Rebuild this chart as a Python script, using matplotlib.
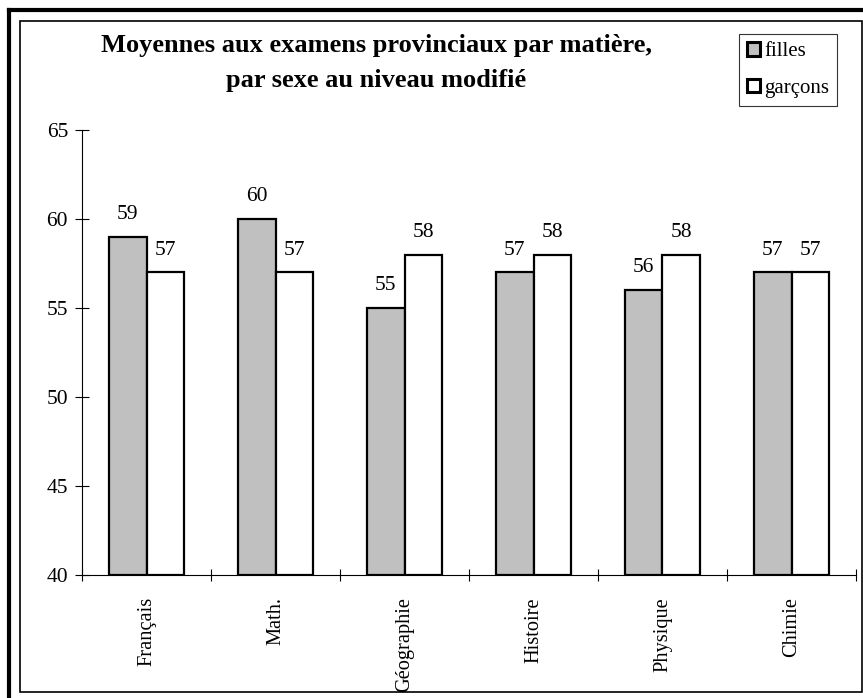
import matplotlib

matplotlib.use("Agg")
import matplotlib.pyplot as plt
from matplotlib.lines import Line2D
from matplotlib.patches import Rectangle
import numpy as np

plt.rcParams["font.family"] = ["Liberation Serif", "DejaVu Serif"]

SUBJECTS = ["Français", "Math.", "Géographie", "Histoire", "Physique", "Chimie"]
FILLES = [59, 60, 55, 57, 56, 57]
GARCONS = [57, 57, 58, 58, 58, 57]
SERIES_LABELS = ["filles", "garçons"]
TITLE = "Moyennes aux examens provinciaux par matière,\npar sexe au niveau modifié"

W, H = 863, 698
fig = plt.figure(figsize=(W / 100, H / 100), dpi=100)
fig.patch.set_facecolor("white")

# frame: thick line top/left, thin inner box
fig.add_artist(Line2D([9 / W, 1], [1 - 10 / H, 1 - 10 / H], color="black", lw=3, transform=fig.transFigure))
fig.add_artist(Line2D([9 / W, 9 / W], [0, 1 - 10 / H], color="black", lw=3, transform=fig.transFigure))
fig.add_artist(Rectangle((20 / W, 1 - 692 / H), 842 / W, 671 / H, fill=False, ec="black", lw=1.2,
                         transform=fig.transFigure))

ax = fig.add_axes([82 / W, 1 - 575 / H, 774 / W, 445 / H])
x = np.arange(len(SUBJECTS))
width = 0.29

b1 = ax.bar(x - width / 2, np.array(FILLES) - 40, width, bottom=40, color="#c0c0c0",
            edgecolor="black", linewidth=1.6, label=SERIES_LABELS[0])
b2 = ax.bar(x + width / 2, np.array(GARCONS) - 40, width, bottom=40, color="white",
            edgecolor="black", linewidth=1.6, label=SERIES_LABELS[1])

for xs, vals in ((x - width / 2, FILLES), (x + width / 2, GARCONS)):
    for xi, v in zip(xs, vals):
        ax.annotate(str(v), (xi, v), xytext=(0, 16), textcoords="offset points",
                    ha="center", va="center", fontsize=15.5)

ax.set_xlim(-0.5, len(SUBJECTS) - 0.5)
ax.set_ylim(40, 65)
ax.set_yticks(np.arange(40, 66, 5))
ax.set_xticks(x)
ax.set_xticklabels(SUBJECTS, rotation=90, fontsize=14.7)
ax.set_xticks(np.arange(-0.5, len(SUBJECTS)), minor=True)
ax.tick_params(axis="x", which="major", length=0, pad=16)
ax.tick_params(axis="x", which="minor", direction="inout", length=9, width=0.8)
ax.tick_params(axis="y", direction="inout", length=10, width=0.8, labelsize=15.5, pad=5)
for side in ("top", "right"):
    ax.spines[side].set_visible(False)
ax.spines["left"].set_linewidth(0.8)
ax.spines["bottom"].set_linewidth(0.8)

fig.text(376 / W, 1 - 63 / H, TITLE, ha="center", va="center", fontsize=19,
         fontweight="bold", linespacing=1.7)

leg = fig.legend(handles=[b1, b2], loc="upper left", bbox_to_anchor=(739 / W, 1 - 34 / H),
                 frameon=True, fancybox=False, fontsize=15, handlelength=0.6, handleheight=0.6,
                 handletextpad=0.2, borderpad=0.4, labelspacing=0.85, borderaxespad=0)
leg.get_frame().set_edgecolor("black")
leg.get_frame().set_linewidth(0.8)
for h in leg.legend_handles:
    h.set_linewidth(2.2)

fig.savefig("out.png", dpi=100)
